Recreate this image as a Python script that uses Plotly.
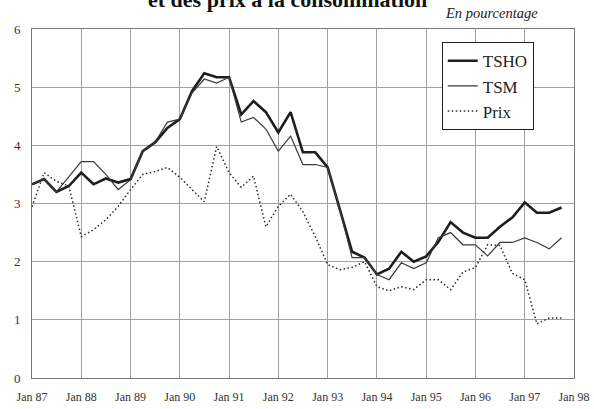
import plotly.graph_objects as go

# Quarterly observations, Jan 1987 .. Oct 1997
quarters = [f"{y}-{m:02d}-01" for y in range(1987, 1998) for m in (1, 4, 7, 10)]

tsho = [3.33, 3.42, 3.20, 3.30,
        3.53, 3.33, 3.43, 3.36,
        3.42, 3.90, 4.05, 4.30,
        4.45, 4.93, 5.24, 5.17,
        5.17, 4.53, 4.76, 4.57,
        4.22, 4.57, 3.88, 3.88,
        3.62, 2.90, 2.17, 2.07,
        1.78, 1.88, 2.17, 2.00,
        2.09, 2.34, 2.68, 2.50,
        2.41, 2.41, 2.60, 2.76,
        3.02, 2.84, 2.84, 2.93]

tsm = [3.33, 3.42, 3.20, 3.45,
       3.72, 3.72, 3.50, 3.24,
       3.41, 3.90, 4.05, 4.40,
       4.45, 4.90, 5.14, 5.07,
       5.17, 4.40, 4.48, 4.28,
       3.90, 4.16, 3.67, 3.67,
       3.62, 2.90, 2.07, 2.07,
       1.78, 1.69, 1.98, 1.88,
       1.98, 2.41, 2.50, 2.29,
       2.29, 2.10, 2.33, 2.33,
       2.41, 2.33, 2.22, 2.41]

prix = [2.95, 3.53, 3.38, 3.30,
        2.43, 2.55, 2.72, 2.95,
        3.24, 3.50, 3.55, 3.62,
        3.45, 3.25, 3.03, 3.98,
        3.53, 3.28, 3.47, 2.60,
        2.95, 3.16, 2.86, 2.43,
        1.95, 1.86, 1.90, 2.00,
        1.57, 1.50, 1.57, 1.52,
        1.69, 1.69, 1.52, 1.82,
        1.90, 2.29, 2.28, 1.80,
        1.69, 0.93, 1.03, 1.03]

tick_dates = [f"{y}-01-01" for y in range(1987, 1999)]
tick_labels = ["Jan 87", "Jan 88", "Jan 89", "Jan 90", "Jan 91", "Jan 92",
               "Jan 93", "Jan 94", "Jan 95", "Jan 96", "Jan 97", "Jan 98"]
y_ticks = [0, 1, 2, 3, 4, 5, 6]

serif = "Liberation Serif"

fig = go.Figure()
fig.add_trace(go.Scatter(x=quarters, y=tsho, name="TSHO", mode="lines",
                         line=dict(color="#1e1e1e", width=2.6)))
fig.add_trace(go.Scatter(x=quarters, y=tsm, name="TSM", mode="lines",
                         line=dict(color="#3a3a3a", width=1.2)))
fig.add_trace(go.Scatter(x=quarters, y=prix, name="Prix", mode="lines",
                         line=dict(color="#2a2a2a", width=1.5, dash="1.5px,2.5px")))

fig.update_layout(
    width=594, height=409,
    margin=dict(l=32, r=20, t=29, b=31),
    paper_bgcolor="white", plot_bgcolor="white",
    font=dict(family=serif, color="#222"),
    showlegend=True,
    legend=dict(x=0.756, y=0.962, xanchor="left", yanchor="top",
                bgcolor="white", bordercolor="#222", borderwidth=1,
                font=dict(family=serif, size=17, color="#222"),
                tracegroupgap=0, itemwidth=30),
    xaxis=dict(range=["1987-01-01", "1998-01-01"], tickvals=tick_dates,
               ticktext=tick_labels, showgrid=True, gridcolor="#a0a0a0",
               gridwidth=1, showline=True, linecolor="#777", mirror=True,
               ticks="", ticklabelstandoff=8, automargin=False,
               tickfont=dict(family=serif, size=12, color="#333")),
    yaxis=dict(range=[0, 6], tickvals=y_ticks, showgrid=True,
               gridcolor="#a0a0a0", gridwidth=1, showline=True,
               linecolor="#777", mirror=True, zeroline=False, ticks="",
               ticklabelstandoff=8, automargin=False,
               tickfont=dict(family=serif, size=13, color="#333")),
)

fig.add_annotation(text="<b>et des prix à la consommation</b>", xref="paper",
                   yref="paper", x=0.472, y=1.085, xanchor="center",
                   yanchor="middle", showarrow=False,
                   font=dict(family=serif, size=22, color="#111"))
fig.add_annotation(text="<i>En pourcentage</i>", xref="paper", yref="paper",
                   x=0.937, y=1.046, xanchor="right", yanchor="middle",
                   showarrow=False,
                   font=dict(family=serif, size=14.5, color="#222"))

fig.write_html("out.html", config={"displayModeBar": False},
               post_script="document.body.style.margin='0';")
